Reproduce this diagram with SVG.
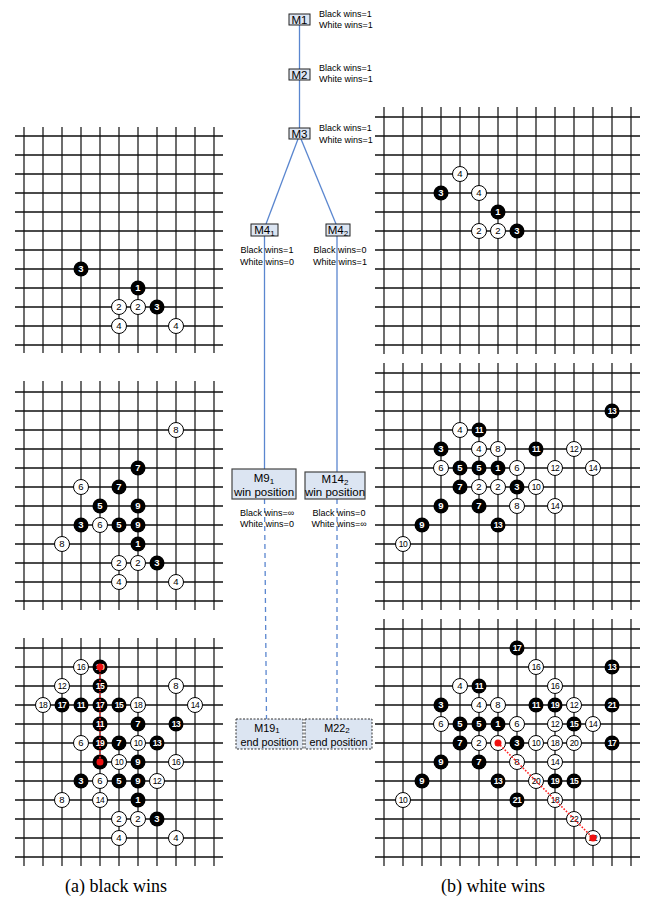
<svg xmlns="http://www.w3.org/2000/svg" width="646" height="903" viewBox="0 0 646 903">
<style>
.h{stroke:#111;stroke-width:1.3;fill:none}
.v{stroke:#4a4a4a;stroke-width:1.6;fill:none}
.b{fill:#000}
.w{fill:#fff;stroke:#000;stroke-width:1}
text{font-family:"Liberation Sans",Arial,sans-serif}
.bt{fill:#fff;font-size:9.5px;font-weight:bold;text-anchor:middle}
.wt{fill:#000;font-size:9.5px;text-anchor:middle}
.d{font-size:8.5px;letter-spacing:-0.4px}
.red{stroke:#ff2020;stroke-width:1.6;stroke-dasharray:1.6,1.6;fill:none}
.rd{fill:#f01010}
.box{fill:#dce5f2;stroke:#222;stroke-width:1}
.box2{fill:#dce5f2;stroke:#444;stroke-width:1.2}
.box3{fill:#dce5f2;stroke:#333;stroke-width:1;stroke-dasharray:2,1.5}
.lab{font-size:9px;fill:#000}
.nm{font-size:11.5px;fill:#000;text-anchor:middle}
.nm2{font-size:11.5px;fill:#000;text-anchor:middle}
.nm3{font-size:10.8px;fill:#000;text-anchor:middle}
.ln{stroke:#5a86cf;stroke-width:1.3;fill:none}
.dl{stroke:#5a86cf;stroke-width:1.3;fill:none;stroke-dasharray:5,4}
.cap{font-family:"Liberation Serif","Times New Roman",serif;font-size:18px;text-anchor:middle;fill:#000}
</style>

<!-- Left top board -->
<g id="board-a1">
<path class="v" d="M24 127V353M43 127V353M62 127V353M81 127V353M100 127V353M119 127V353M138 127V353M157 127V353M176 127V353M195 127V353M214 127V353"/>
<path class="h" d="M15 136H223M15 155H223M15 174H223M15 193H223M15 212H223M15 231H223M15 250H223M15 269H223M15 288H223M15 307H223M15 326H223M15 345H223"/>
<circle class="b" cx="81" cy="269" r="7.5"/><text class="bt" x="81" y="272.3">3</text>
<circle class="b" cx="138" cy="288" r="7.5"/><text class="bt" x="138" y="291.3">1</text>
<circle class="w" cx="119" cy="307" r="7.5"/><text class="wt" x="119" y="310.3">2</text>
<circle class="w" cx="138" cy="307" r="7.5"/><text class="wt" x="138" y="310.3">2</text>
<circle class="b" cx="157" cy="307" r="7.5"/><text class="bt" x="157" y="310.3">3</text>
<circle class="w" cx="119" cy="326" r="7.5"/><text class="wt" x="119" y="329.3">4</text>
<circle class="w" cx="176" cy="326" r="7.5"/><text class="wt" x="176" y="329.3">4</text>
</g>

<!-- Left middle board -->
<g id="board-a2">
<path class="v" d="M24 381V610M43 381V610M62 381V610M81 381V610M100 381V610M119 381V610M138 381V610M157 381V610M176 381V610M195 381V610M214 381V610"/>
<path class="h" d="M15 392H223M15 411H223M15 430H223M15 449H223M15 468H223M15 487H223M15 506H223M15 525H223M15 544H223M15 563H223M15 582H223M15 601H223"/>
<circle class="w" cx="176" cy="430" r="7.5"/><text class="wt" x="176" y="433.3">8</text>
<circle class="b" cx="138" cy="468" r="7.5"/><text class="bt" x="138" y="471.3">7</text>
<circle class="w" cx="81" cy="487" r="7.5"/><text class="wt" x="81" y="490.3">6</text>
<circle class="b" cx="119" cy="487" r="7.5"/><text class="bt" x="119" y="490.3">7</text>
<circle class="b" cx="100" cy="506" r="7.5"/><text class="bt" x="100" y="509.3">5</text>
<circle class="b" cx="138" cy="506" r="7.5"/><text class="bt" x="138" y="509.3">9</text>
<circle class="b" cx="81" cy="525" r="7.5"/><text class="bt" x="81" y="528.3">3</text>
<circle class="w" cx="100" cy="525" r="7.5"/><text class="wt" x="100" y="528.3">6</text>
<circle class="b" cx="119" cy="525" r="7.5"/><text class="bt" x="119" y="528.3">5</text>
<circle class="b" cx="138" cy="525" r="7.5"/><text class="bt" x="138" y="528.3">9</text>
<circle class="w" cx="62" cy="544" r="7.5"/><text class="wt" x="62" y="547.3">8</text>
<circle class="b" cx="138" cy="544" r="7.5"/><text class="bt" x="138" y="547.3">1</text>
<circle class="w" cx="119" cy="563" r="7.5"/><text class="wt" x="119" y="566.3">2</text>
<circle class="w" cx="138" cy="563" r="7.5"/><text class="wt" x="138" y="566.3">2</text>
<circle class="b" cx="157" cy="563" r="7.5"/><text class="bt" x="157" y="566.3">3</text>
<circle class="w" cx="119" cy="582" r="7.5"/><text class="wt" x="119" y="585.3">4</text>
<circle class="w" cx="176" cy="582" r="7.5"/><text class="wt" x="176" y="585.3">4</text>
</g>

<!-- Left bottom board -->
<g id="board-a3">
<path class="v" d="M24 638V866M43 638V866M62 638V866M81 638V866M100 638V866M119 638V866M138 638V866M157 638V866M176 638V866M195 638V866M214 638V866"/>
<path class="h" d="M15 648H223M15 667H223M15 686H223M15 705H223M15 724H223M15 743H223M15 762H223M15 781H223M15 800H223M15 819H223M15 838H223M15 857H223"/>
<circle class="w" cx="81" cy="667" r="7.5"/><text class="wt d" x="81" y="670">16</text>
<circle class="b" cx="100" cy="667" r="7.5"/><text class="bt d" x="100" y="670">19</text>
<circle class="w" cx="62" cy="686" r="7.5"/><text class="wt d" x="62" y="689">12</text>
<circle class="b" cx="100" cy="686" r="7.5"/><text class="bt d" x="100" y="689">15</text>
<circle class="w" cx="176" cy="686" r="7.5"/><text class="wt" x="176" y="689.3">8</text>
<circle class="w" cx="43" cy="705" r="7.5"/><text class="wt d" x="43" y="708">18</text>
<circle class="b" cx="62" cy="705" r="7.5"/><text class="bt d" x="62" y="708">17</text>
<circle class="b" cx="81" cy="705" r="7.5"/><text class="bt d" x="81" y="708">11</text>
<circle class="b" cx="100" cy="705" r="7.5"/><text class="bt d" x="100" y="708">17</text>
<circle class="b" cx="119" cy="705" r="7.5"/><text class="bt d" x="119" y="708">15</text>
<circle class="w" cx="138" cy="705" r="7.5"/><text class="wt d" x="138" y="708">18</text>
<circle class="w" cx="195" cy="705" r="7.5"/><text class="wt d" x="195" y="708">14</text>
<circle class="b" cx="100" cy="724" r="7.5"/><text class="bt d" x="100" y="727">11</text>
<circle class="b" cx="138" cy="724" r="7.5"/><text class="bt" x="138" y="727.3">7</text>
<circle class="b" cx="176" cy="724" r="7.5"/><text class="bt d" x="176" y="727">13</text>
<circle class="w" cx="81" cy="743" r="7.5"/><text class="wt" x="81" y="746.3">6</text>
<circle class="b" cx="100" cy="743" r="7.5"/><text class="bt d" x="100" y="746">19</text>
<circle class="b" cx="119" cy="743" r="7.5"/><text class="bt" x="119" y="746.3">7</text>
<circle class="w" cx="138" cy="743" r="7.5"/><text class="wt d" x="138" y="746">10</text>
<circle class="b" cx="157" cy="743" r="7.5"/><text class="bt d" x="157" y="746">13</text>
<circle class="b" cx="100" cy="762" r="7.5"/><text class="bt" x="100" y="765.3">5</text>
<circle class="w" cx="119" cy="762" r="7.5"/><text class="wt d" x="119" y="765">10</text>
<circle class="b" cx="138" cy="762" r="7.5"/><text class="bt" x="138" y="765.3">9</text>
<circle class="w" cx="176" cy="762" r="7.5"/><text class="wt d" x="176" y="765">16</text>
<circle class="b" cx="81" cy="781" r="7.5"/><text class="bt" x="81" y="784.3">3</text>
<circle class="w" cx="100" cy="781" r="7.5"/><text class="wt" x="100" y="784.3">6</text>
<circle class="b" cx="119" cy="781" r="7.5"/><text class="bt" x="119" y="784.3">5</text>
<circle class="b" cx="138" cy="781" r="7.5"/><text class="bt" x="138" y="784.3">9</text>
<circle class="w" cx="157" cy="781" r="7.5"/><text class="wt d" x="157" y="784">12</text>
<circle class="w" cx="62" cy="800" r="7.5"/><text class="wt" x="62" y="803.3">8</text>
<circle class="w" cx="100" cy="800" r="7.5"/><text class="wt d" x="100" y="803">14</text>
<circle class="b" cx="138" cy="800" r="7.5"/><text class="bt" x="138" y="803.3">1</text>
<circle class="w" cx="119" cy="819" r="7.5"/><text class="wt" x="119" y="822.3">2</text>
<circle class="w" cx="138" cy="819" r="7.5"/><text class="wt" x="138" y="822.3">2</text>
<circle class="b" cx="157" cy="819" r="7.5"/><text class="bt" x="157" y="822.3">3</text>
<circle class="w" cx="119" cy="838" r="7.5"/><text class="wt" x="119" y="841.3">4</text>
<circle class="w" cx="176" cy="838" r="7.5"/><text class="wt" x="176" y="841.3">4</text>
<path class="red" d="M100 667V762"/>
<circle class="rd" cx="100" cy="667" r="3.5"/>
<circle class="rd" cx="100" cy="762" r="3.5"/>
</g>

<!-- Right top board -->
<g id="board-b1">
<path class="v" d="M384 107V354M403 107V354M422 107V354M441 107V354M460 107V354M479 107V354M498 107V354M517 107V354M536 107V354M555 107V354M574 107V354M593 107V354M612 107V354M631 107V354"/>
<path class="h" d="M375 117H640M375 136H640M375 155H640M375 174H640M375 193H640M375 212H640M375 231H640M375 250H640M375 269H640M375 288H640M375 307H640M375 326H640M375 345H640"/>
<circle class="w" cx="460" cy="174" r="7.5"/><text class="wt" x="460" y="177.3">4</text>
<circle class="b" cx="441" cy="193" r="7.5"/><text class="bt" x="441" y="196.3">3</text>
<circle class="w" cx="479" cy="193" r="7.5"/><text class="wt" x="479" y="196.3">4</text>
<circle class="b" cx="498" cy="212" r="7.5"/><text class="bt" x="498" y="215.3">1</text>
<circle class="w" cx="479" cy="231" r="7.5"/><text class="wt" x="479" y="234.3">2</text>
<circle class="w" cx="498" cy="231" r="7.5"/><text class="wt" x="498" y="234.3">2</text>
<circle class="b" cx="517" cy="231" r="7.5"/><text class="bt" x="517" y="234.3">3</text>
</g>

<!-- Right middle board -->
<g id="board-b2">
<path class="v" d="M384 363V610M403 363V610M422 363V610M441 363V610M460 363V610M479 363V610M498 363V610M517 363V610M536 363V610M555 363V610M574 363V610M593 363V610M612 363V610M631 363V610"/>
<path class="h" d="M375 373H640M375 392H640M375 411H640M375 430H640M375 449H640M375 468H640M375 487H640M375 506H640M375 525H640M375 544H640M375 563H640M375 582H640M375 601H640"/>
<circle class="b" cx="612" cy="411" r="7.5"/><text class="bt d" x="612" y="414">13</text>
<circle class="w" cx="460" cy="430" r="7.5"/><text class="wt" x="460" y="433.3">4</text>
<circle class="b" cx="479" cy="430" r="7.5"/><text class="bt d" x="479" y="433">11</text>
<circle class="b" cx="441" cy="449" r="7.5"/><text class="bt" x="441" y="452.3">3</text>
<circle class="w" cx="479" cy="449" r="7.5"/><text class="wt" x="479" y="452.3">4</text>
<circle class="w" cx="498" cy="449" r="7.5"/><text class="wt" x="498" y="452.3">8</text>
<circle class="b" cx="536" cy="449" r="7.5"/><text class="bt d" x="536" y="452">11</text>
<circle class="w" cx="574" cy="449" r="7.5"/><text class="wt d" x="574" y="452">12</text>
<circle class="w" cx="441" cy="468" r="7.5"/><text class="wt" x="441" y="471.3">6</text>
<circle class="b" cx="460" cy="468" r="7.5"/><text class="bt" x="460" y="471.3">5</text>
<circle class="b" cx="479" cy="468" r="7.5"/><text class="bt" x="479" y="471.3">5</text>
<circle class="b" cx="498" cy="468" r="7.5"/><text class="bt" x="498" y="471.3">1</text>
<circle class="w" cx="517" cy="468" r="7.5"/><text class="wt" x="517" y="471.3">6</text>
<circle class="w" cx="555" cy="468" r="7.5"/><text class="wt d" x="555" y="471">12</text>
<circle class="w" cx="593" cy="468" r="7.5"/><text class="wt d" x="593" y="471">14</text>
<circle class="b" cx="460" cy="487" r="7.5"/><text class="bt" x="460" y="490.3">7</text>
<circle class="w" cx="479" cy="487" r="7.5"/><text class="wt" x="479" y="490.3">2</text>
<circle class="w" cx="498" cy="487" r="7.5"/><text class="wt" x="498" y="490.3">2</text>
<circle class="b" cx="517" cy="487" r="7.5"/><text class="bt" x="517" y="490.3">3</text>
<circle class="w" cx="536" cy="487" r="7.5"/><text class="wt d" x="536" y="490">10</text>
<circle class="b" cx="441" cy="506" r="7.5"/><text class="bt" x="441" y="509.3">9</text>
<circle class="b" cx="479" cy="506" r="7.5"/><text class="bt" x="479" y="509.3">7</text>
<circle class="w" cx="517" cy="506" r="7.5"/><text class="wt" x="517" y="509.3">8</text>
<circle class="w" cx="555" cy="506" r="7.5"/><text class="wt d" x="555" y="509">14</text>
<circle class="b" cx="422" cy="525" r="7.5"/><text class="bt" x="422" y="528.3">9</text>
<circle class="b" cx="498" cy="525" r="7.5"/><text class="bt d" x="498" y="528">13</text>
<circle class="w" cx="403" cy="544" r="7.5"/><text class="wt d" x="403" y="547">10</text>
</g>

<!-- Right bottom board -->
<g id="board-b3">
<path class="v" d="M384 619V866M403 619V866M422 619V866M441 619V866M460 619V866M479 619V866M498 619V866M517 619V866M536 619V866M555 619V866M574 619V866M593 619V866M612 619V866M631 619V866"/>
<path class="h" d="M375 629H640M375 648H640M375 667H640M375 686H640M375 705H640M375 724H640M375 743H640M375 762H640M375 781H640M375 800H640M375 819H640M375 838H640M375 857H640"/>
<circle class="b" cx="517" cy="648" r="7.5"/><text class="bt d" x="517" y="651">17</text>
<circle class="w" cx="536" cy="667" r="7.5"/><text class="wt d" x="536" y="670">16</text>
<circle class="b" cx="612" cy="667" r="7.5"/><text class="bt d" x="612" y="670">13</text>
<circle class="w" cx="460" cy="686" r="7.5"/><text class="wt" x="460" y="689.3">4</text>
<circle class="b" cx="479" cy="686" r="7.5"/><text class="bt d" x="479" y="689">11</text>
<circle class="w" cx="555" cy="686" r="7.5"/><text class="wt d" x="555" y="689">16</text>
<circle class="b" cx="441" cy="705" r="7.5"/><text class="bt" x="441" y="708.3">3</text>
<circle class="w" cx="479" cy="705" r="7.5"/><text class="wt" x="479" y="708.3">4</text>
<circle class="w" cx="498" cy="705" r="7.5"/><text class="wt" x="498" y="708.3">8</text>
<circle class="b" cx="536" cy="705" r="7.5"/><text class="bt d" x="536" y="708">11</text>
<circle class="b" cx="555" cy="705" r="7.5"/><text class="bt d" x="555" y="708">19</text>
<circle class="w" cx="574" cy="705" r="7.5"/><text class="wt d" x="574" y="708">12</text>
<circle class="b" cx="612" cy="705" r="7.5"/><text class="bt d" x="612" y="708">21</text>
<circle class="w" cx="441" cy="724" r="7.5"/><text class="wt" x="441" y="727.3">6</text>
<circle class="b" cx="460" cy="724" r="7.5"/><text class="bt" x="460" y="727.3">5</text>
<circle class="b" cx="479" cy="724" r="7.5"/><text class="bt" x="479" y="727.3">5</text>
<circle class="b" cx="498" cy="724" r="7.5"/><text class="bt" x="498" y="727.3">1</text>
<circle class="w" cx="517" cy="724" r="7.5"/><text class="wt" x="517" y="727.3">6</text>
<circle class="w" cx="555" cy="724" r="7.5"/><text class="wt d" x="555" y="727">12</text>
<circle class="b" cx="574" cy="724" r="7.5"/><text class="bt d" x="574" y="727">15</text>
<circle class="w" cx="593" cy="724" r="7.5"/><text class="wt d" x="593" y="727">14</text>
<circle class="b" cx="460" cy="743" r="7.5"/><text class="bt" x="460" y="746.3">7</text>
<circle class="w" cx="479" cy="743" r="7.5"/><text class="wt" x="479" y="746.3">2</text>
<circle class="w" cx="498" cy="743" r="7.5"/><text class="wt" x="498" y="746.3">2</text>
<circle class="b" cx="517" cy="743" r="7.5"/><text class="bt" x="517" y="746.3">3</text>
<circle class="w" cx="536" cy="743" r="7.5"/><text class="wt d" x="536" y="746">10</text>
<circle class="w" cx="555" cy="743" r="7.5"/><text class="wt d" x="555" y="746">18</text>
<circle class="w" cx="574" cy="743" r="7.5"/><text class="wt d" x="574" y="746">20</text>
<circle class="b" cx="612" cy="743" r="7.5"/><text class="bt d" x="612" y="746">17</text>
<circle class="b" cx="441" cy="762" r="7.5"/><text class="bt" x="441" y="765.3">9</text>
<circle class="b" cx="479" cy="762" r="7.5"/><text class="bt" x="479" y="765.3">7</text>
<circle class="w" cx="517" cy="762" r="7.5"/><text class="wt" x="517" y="765.3">8</text>
<circle class="w" cx="555" cy="762" r="7.5"/><text class="wt d" x="555" y="765">14</text>
<circle class="b" cx="422" cy="781" r="7.5"/><text class="bt" x="422" y="784.3">9</text>
<circle class="b" cx="498" cy="781" r="7.5"/><text class="bt d" x="498" y="784">13</text>
<circle class="w" cx="536" cy="781" r="7.5"/><text class="wt d" x="536" y="784">20</text>
<circle class="b" cx="555" cy="781" r="7.5"/><text class="bt d" x="555" y="784">19</text>
<circle class="b" cx="574" cy="781" r="7.5"/><text class="bt d" x="574" y="784">15</text>
<circle class="w" cx="403" cy="800" r="7.5"/><text class="wt d" x="403" y="803">10</text>
<circle class="b" cx="517" cy="800" r="7.5"/><text class="bt d" x="517" y="803">21</text>
<circle class="w" cx="555" cy="800" r="7.5"/><text class="wt d" x="555" y="803">18</text>
<circle class="w" cx="574" cy="819" r="7.5"/><text class="wt d" x="574" y="822">22</text>
<circle class="w" cx="593" cy="838" r="7.5"/><text class="wt d" x="593" y="841">22</text>
<path class="red" d="M498 743L593 838"/>
<circle class="rd" cx="498" cy="743" r="3.5"/>
<circle class="rd" cx="593" cy="838" r="3.5"/>
</g>

<!-- Connectors -->
<g id="connectors">
<path class="ln" d="M299.5 25V69"/>
<path class="ln" d="M299.5 80V128"/>
<path class="ln" d="M298 139L266 224"/>
<path class="ln" d="M301 139L336 224"/>
<path class="ln" d="M264.5 236V469"/>
<path class="ln" d="M337 236V472"/>
<path class="dl" d="M264.5 499L266.5 719"/>
<path class="dl" d="M337 499V719"/>
</g>

<!-- Tree nodes -->
<g id="M1">
<rect class="box" x="289" y="14" width="21" height="11"/>
<text class="nm" x="299.5" y="23.8">M1</text>
<text class="lab" x="319" y="17">Black wins=1</text>
<text class="lab" x="319" y="28">White wins=1</text>
</g>
<g id="M2">
<rect class="box" x="289" y="69" width="21" height="11"/>
<text class="nm" x="299.5" y="78.8">M2</text>
<text class="lab" x="319" y="71">Black wins=1</text>
<text class="lab" x="319" y="82">White wins=1</text>
</g>
<g id="M3">
<rect class="box" x="289" y="128" width="21" height="11"/>
<text class="nm" x="299.5" y="137.8">M3</text>
<text class="lab" x="319" y="131">Black wins=1</text>
<text class="lab" x="319" y="143">White wins=1</text>
</g>
<g id="M4_1">
<rect class="box" x="251" y="224" width="27" height="12"/>
<text class="nm" x="264.5" y="234.3">M4<tspan font-size="8" dy="1.5">1</tspan></text>
<text class="lab" x="267" y="253" text-anchor="middle">Black wins=1</text>
<text class="lab" x="267" y="265" text-anchor="middle">White wins=0</text>
</g>
<g id="M4_2">
<rect class="box" x="326" y="224" width="24" height="12"/>
<text class="nm" x="338" y="234.3">M4<tspan font-size="8" dy="1.5">2</tspan></text>
<text class="lab" x="340" y="253" text-anchor="middle">Black wins=0</text>
<text class="lab" x="340" y="265" text-anchor="middle">White wins=1</text>
</g>
<g id="M9_1">
<rect class="box2" x="232" y="469" width="64" height="30"/>
<text class="nm2" x="264" y="482">M9<tspan font-size="8" dy="1.5">1</tspan></text>
<text class="nm2" x="264" y="495.5">win position</text>
<text class="lab" x="267" y="516" text-anchor="middle">Black wins=∞</text>
<text class="lab" x="267" y="527" text-anchor="middle">White wins=0</text>
</g>
<g id="M14_2">
<rect class="box2" x="305" y="472" width="60" height="27"/>
<text class="nm2" x="335" y="483">M14<tspan font-size="8" dy="1.5">2</tspan></text>
<text class="nm2" x="335" y="496">win position</text>
<text class="lab" x="339" y="516" text-anchor="middle">Black wins=0</text>
<text class="lab" x="339" y="527" text-anchor="middle">White wins=∞</text>
</g>
<g id="M19_1">
<rect class="box3" x="236" y="719" width="67" height="30"/>
<text class="nm3" x="267" y="731.5">M19<tspan font-size="8" dy="1.5">1</tspan></text>
<text class="nm3" x="269.5" y="745.5">end position</text>
</g>
<g id="M22_2">
<rect class="box3" x="305" y="719" width="67" height="30"/>
<text class="nm3" x="337" y="731.5">M22<tspan font-size="8" dy="1.5">2</tspan></text>
<text class="nm3" x="338.5" y="745.5">end position</text>
</g>

<!-- Captions -->
<text class="cap" x="116" y="892">(a) black wins</text>
<text class="cap" x="493" y="892">(b) white wins</text>
</svg>
